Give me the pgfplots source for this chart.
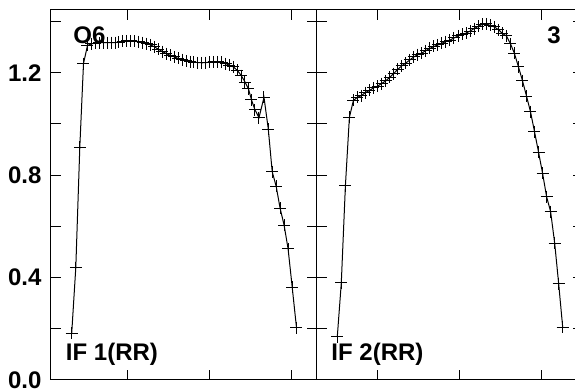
\documentclass[border=0pt]{standalone}
\usepackage{fontspec}
\setmainfont{Liberation Sans}
\usepackage{pgfplots}
\pgfplotsset{compat=1.18}
\newcommand{\lblfont}{\fontsize{12}{14}\selectfont\bfseries}
\begin{document}
\begin{tikzpicture}[x=1pt,y=1pt]
\pgfplotsset{
  panel/.style={
    scale only axis, width=133pt, height=185pt,
    anchor=south west,
    ymin=0, ymax=1.4453,
    ytick={0,0.4,0.8,1.2}, minor ytick={0.2,0.6,1.0,1.4},
    major tick length=5pt, minor tick length=5pt,
    tick align=inside,
    tick style={black, line width=0.5pt},
    axis line style={black, line width=0.5pt},
    every axis/.append style={line width=0.5pt},
    xticklabels={},
    yticklabel style={font=\lblfont, inner sep=0pt, xshift=-4.5pt},
    clip=true,
  },
  curve/.style={black, line width=0.5pt, mark=+, mark size=3pt, mark options={black, line width=0.5pt, solid}},
}
\begin{axis}[panel, at={(0pt,0pt)}, xmin=51, xmax=317, xtick={128,210,292},
  yticklabels={0.0,0.4,0.8,1.2}]
\addplot[curve] coordinates {
(71.7,0.182)(75.8,0.439)(79.8,0.909)(83.5,1.236)(87.5,1.307)(91.4,1.313)(95.4,1.316)(99.3,1.318)(103.3,1.318)(107.2,1.318)(111.2,1.318)(115.1,1.318)(119.0,1.320)(123.0,1.323)(126.9,1.325)(130.9,1.325)(134.8,1.324)(138.8,1.322)(142.7,1.318)(146.7,1.314)(150.6,1.309)(154.5,1.301)(158.5,1.292)(162.4,1.283)(166.4,1.275)(170.3,1.268)(174.3,1.262)(178.2,1.256)(182.2,1.251)(186.1,1.247)(190.1,1.244)(194.0,1.241)(197.9,1.240)(201.9,1.239)(205.8,1.240)(209.8,1.241)(213.7,1.243)(217.7,1.243)(221.6,1.241)(225.6,1.236)(229.5,1.230)(233.4,1.223)(237.4,1.209)(241.3,1.189)(245.0,1.164)(248.5,1.137)(251.5,1.094)(255.0,1.055)(259.0,1.025)(264.0,1.104)(268.3,0.980)(272.2,0.814)(276.2,0.756)(280.1,0.671)(284.1,0.605)(288.1,0.512)(292.2,0.363)(296.5,0.204)
};
\node[anchor=base west, inner sep=0pt, font=\lblfont] at (axis cs:73,1.316) {O6};
\node[anchor=base west, inner sep=0pt, font=\lblfont] at (axis cs:65.5,0.078) {IF 1(RR)};
\end{axis}
\begin{axis}[panel, at={(133pt,0pt)}, xmin=317, xmax=583, xtick={378,460,542},
  yticklabels={}]
\addplot[curve] coordinates {
(337.3,0.169)(341.3,0.379)(345.4,0.758)(349.4,1.026)(353.4,1.092)(357.4,1.104)(361.5,1.111)(365.5,1.123)(369.5,1.131)(373.5,1.141)(377.6,1.148)(381.6,1.158)(385.6,1.168)(389.6,1.182)(393.7,1.197)(397.7,1.213)(401.7,1.227)(405.7,1.238)(409.8,1.250)(413.8,1.262)(417.8,1.271)(421.8,1.277)(425.9,1.287)(429.9,1.295)(433.9,1.303)(437.9,1.309)(442.0,1.316)(446.0,1.322)(450.0,1.328)(454.0,1.336)(458.1,1.344)(462.1,1.350)(466.1,1.355)(470.1,1.363)(474.2,1.373)(478.2,1.381)(482.2,1.389)(486.2,1.391)(490.3,1.385)(494.3,1.379)(498.3,1.369)(502.3,1.354)(506.4,1.344)(510.4,1.314)(514.4,1.276)(518.4,1.224)(522.5,1.169)(526.5,1.109)(530.5,1.048)(534.5,0.970)(538.6,0.889)(542.6,0.807)(546.6,0.716)(550.6,0.658)(554.7,0.534)(558.7,0.375)(562.7,0.206)
};
\node[anchor=base west, inner sep=0pt, font=\lblfont] at (axis cs:547,1.316) {3};
\node[anchor=base west, inner sep=0pt, font=\lblfont] at (axis cs:331,0.078) {IF 2(RR)};
\end{axis}
\pgfresetboundingbox
\useasboundingbox (-25.5pt,-5pt) rectangle (262pt,190pt);
\end{tikzpicture}
\end{document}
